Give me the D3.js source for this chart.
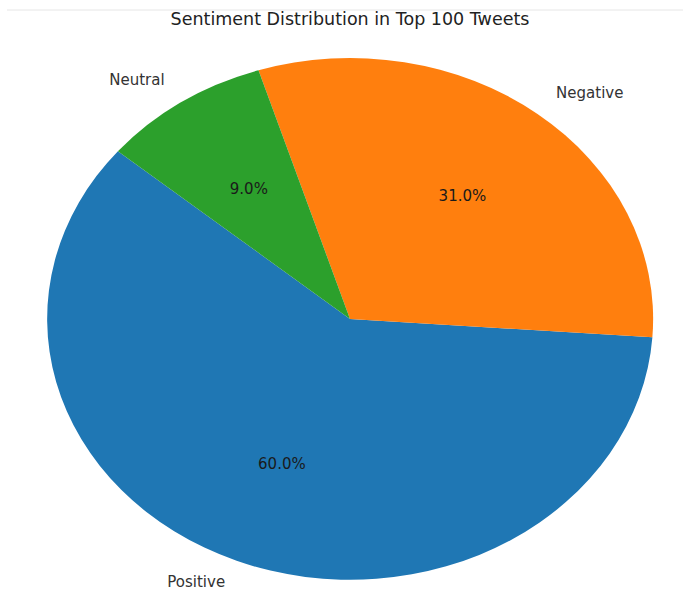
<!DOCTYPE html>
<html>
<head>
<meta charset="utf-8">
<script src="https://cdn.jsdelivr.net/npm/d3@7"></script>
<style>
  body { margin: 0; background: #fff; }
  svg { display: block; font-family: "DejaVu Sans", sans-serif; }
</style>
</head>
<body>
<div id="chart"></div>
<script>
// Sentiment pie - top 100 tweets
const labels = ["Positive", "Negative", "Neutral"];
const values = [60, 31, 9];
const colors = ["#1f77b4", "#ff7f0e", "#2ca02c"];

const width = 683, height = 592;
const cx = 350, cy = 319;
const rx = 303, ry = 261;
const startDeg = 140; // matplotlib startangle, counter-clockwise

const svg = d3.select("#chart").append("svg")
  .attr("width", width)
  .attr("height", height);

// faint rule at top
svg.append("line")
  .attr("x1", 7).attr("x2", width)
  .attr("y1", 10).attr("y2", 10)
  .attr("stroke", "#e6e6e6").attr("stroke-width", 1);

svg.append("text")
  .attr("x", 350).attr("y", 25)
  .attr("text-anchor", "middle")
  .style("font-size", "17.5px")
  .style("fill", "#222")
  .text("Sentiment Distribution in Top 100 Tweets");

const data = labels.map((l, i) => ({ label: l, value: values[i], color: colors[i] }));
const total = d3.sum(values);

// d3 angles: 0 at 12 o'clock, clockwise; go anticlockwise like matplotlib
const a0 = (90 - startDeg) * Math.PI / 180;
const pie = d3.pie().sort(null).value(d => d.value)
  .startAngle(a0).endAngle(a0 - 2 * Math.PI);
const arcs = pie(data);

const arc = d3.arc().innerRadius(0).outerRadius(1);

const g = svg.append("g")
  .attr("transform", `translate(${cx},${cy}) scale(${rx},${ry})`);

g.selectAll("path")
  .data(arcs)
  .join("path")
  .attr("d", arc)
  .attr("fill", d => d.data.color);

const mid = d => (d.startAngle + d.endAngle) / 2;
const px = (d, k) => cx + Math.sin(mid(d)) * rx * k;
const py = (d, k) => cy - Math.cos(mid(d)) * ry * k;

// category labels at 1.1 radius (kept inside the frame)
svg.selectAll(".lbl")
  .data(arcs)
  .join("text")
  .attr("class", "lbl")
  .attr("x", d => px(d, 1.1))
  .attr("y", d => Math.min(py(d, 1.1) + 5, height - 5))
  .attr("text-anchor", d => Math.sin(mid(d)) < 0 ? "end" : "start")
  .style("font-size", "15px")
  .style("fill", "#333")
  .text(d => d.data.label);

// percentages at 0.6 radius
svg.selectAll(".pct")
  .data(arcs)
  .join("text")
  .attr("class", "pct")
  .attr("x", d => px(d, 0.6))
  .attr("y", d => py(d, 0.6))
  .attr("dy", "0.35em")
  .attr("text-anchor", "middle")
  .style("font-size", "15px")
  .style("fill", "#1a1a1a")
  .text(d => (d.data.value / total * 100).toFixed(1) + "%");
</script>
</body>
</html>
